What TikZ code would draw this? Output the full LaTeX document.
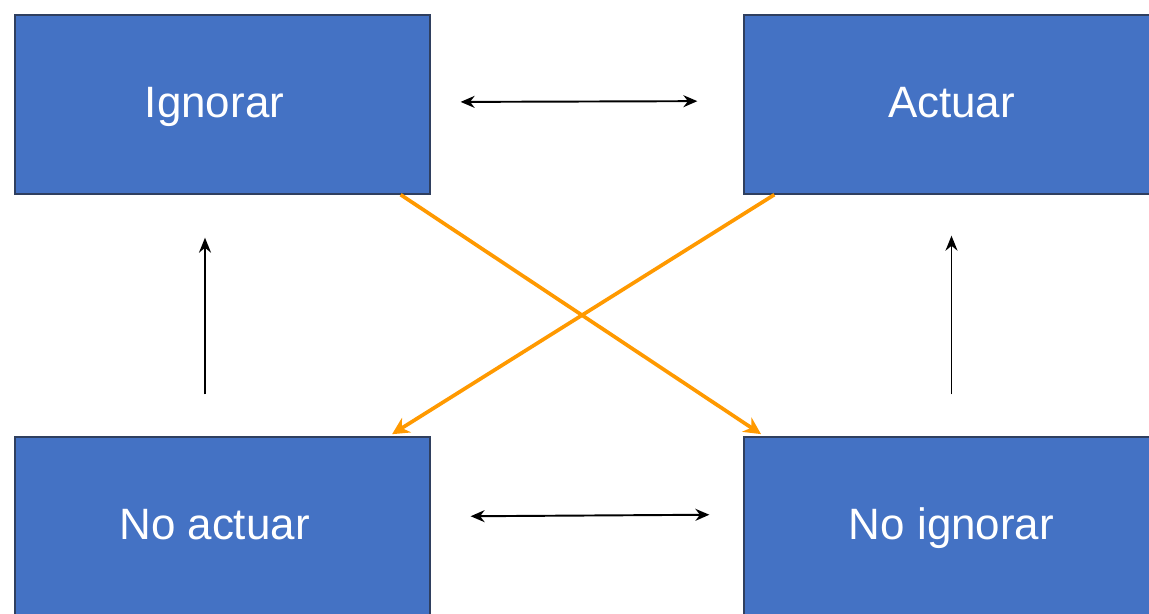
\documentclass[tikz,border=0pt]{standalone}
\usepackage{fontspec}
\setmainfont{Liberation Sans}
\usepackage{xcolor}
\usetikzlibrary{arrows.meta,positioning,calc}
\definecolor{azulcaja}{HTML}{4472C4}
\definecolor{bordecaja}{HTML}{2F3F5F}
\definecolor{naranja}{HTML}{FF9900}
\tikzset{
    caja/.style={
        rectangle,
        draw=bordecaja,
        line width=0.8pt,
        fill=azulcaja,
        text=white,
        align=center,
        minimum width=8.3cm,
        minimum height=3.58cm,
        text height=20pt,
        text depth=5pt,
        font=\fontsize{25}{29}\selectfont
    },
    flecha/.style={{Stealth[length=2.8mm,width=2.4mm]}-{Stealth[length=2.8mm,width=2.4mm]}, line width=1.1pt},
    subida/.style={-{Stealth[length=3mm,width=2.4mm]}, line width=1.1pt},
    cruce/.style={-{Stealth[length=3.4mm,width=3.4mm]}, naranja, line width=2.1pt}
}

\begin{document}
\begin{tikzpicture}[x=0.02cm, y=-0.02cm]
        \useasboundingbox (0,0) rectangle (1149,613);
        \clip (0,0) rectangle (1149,613);

        \node[caja] (ign) at (222.5,104.5) {Ignorar\hspace*{0.32cm}};
        \node[caja] (act) at (951.5,104.5) {Actuar};
        \node[caja] (noact) at (222.5,526.5) {No actuar\hspace*{0.32cm}};
        \node[caja] (noign) at (951.5,526.5) {No ignorar};

        % flechas dobles
        \draw[flecha, shorten <=0.6cm, shorten >=0.92cm]
            ([yshift=0.05cm]ign.east) -- ([yshift=0.07cm]act.west);
        \draw[flecha, shorten <=0.8cm, shorten >=0.68cm]
            ([yshift=0.2cm]noact.east) -- ([yshift=0.24cm]noign.west);

        % flechas verticales
        \draw[subida, shorten <=0.84cm, shorten >=0.86cm]
            ([xshift=-0.35cm]noact.north) -- ([xshift=-0.35cm]ign.south);
        \draw[subida, shorten <=0.84cm, shorten >=0.82cm]
            (noign.north) -- (act.south);

        % cruce naranja
        \draw[cruce, shorten >=0.08cm]
            ([xshift=-0.6cm]ign.south east) -- ([xshift=0.42cm]noign.north west);
        \draw[cruce, shorten >=0.08cm]
            ([xshift=0.62cm]act.south west) -- ([xshift=-0.84cm]noact.north east);
    \end{tikzpicture}
\end{document}
